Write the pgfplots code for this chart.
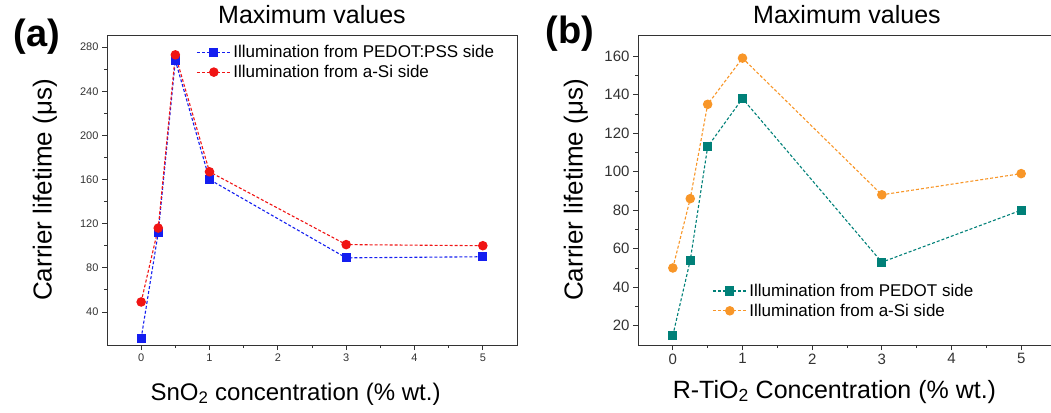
\documentclass[border=0pt]{standalone}
\usepackage{fontspec}
\setmainfont{Liberation Sans}
\usepackage{pgfplots}
\pgfplotsset{compat=1.18}

\definecolor{cblue}{RGB}{20,30,240}
\definecolor{cred}{RGB}{240,20,20}
\definecolor{cteal}{RGB}{0,128,120}
\definecolor{corange}{RGB}{248,150,40}

\pgfplotsset{
  panel/.style={
    scale only axis,
    width=410pt, height=310pt,
    anchor=south west,
    axis line style={line width=0.9pt, black!80},
    tick align=outside, tick pos=left,
    major tick length=5pt, minor tick length=3pt,
    every tick/.style={black!80, line width=0.8pt},
    /pgf/number format/assume math mode=true,
    xmin=-0.5, xmax=5.5, xtick={0,1,2,3,4,5}, minor x tick num=1,
    title style={at={(axis description cs:0.5,1)}, anchor=base, yshift=5pt,
      font=\fontsize{25}{28}\selectfont},
    title={Maximum values},
    legend cell align=left,
    legend style={draw=none, fill=none, row sep=2pt,
      /tikz/every even column/.append style={column sep=2pt}},
    legend image code/.code={%
      \draw[#1, mark repeat=2, mark phase=2] plot coordinates {(0pt,0pt) (17pt,0pt) (34pt,0pt)};},
  },
  ser/.style={line width=1.1pt, dash pattern=on 3pt off 2pt, mark options={solid}},
}

\begin{document}
\begin{tikzpicture}[x=1pt,y=1pt]
\path[use as bounding box] (0pt,0pt) rectangle (1051pt,412pt);

% ---------- (a) ----------
\begin{axis}[panel, at={(107pt,67pt)},
  ymin=10, ymax=291, ytick={40,80,...,280}, minor y tick num=1,
  tick label style={font=\fontsize{11}{12}\selectfont, black!80},
  xlabel={SnO\textsubscript{2} concentration (\% wt.)},
  xlabel style={at={(axis description cs:0.46,0)}, anchor=base, yshift=-55pt,
    font=\fontsize{24}{26}\selectfont},
  ylabel={Carrier lifetime (μs)},
  ylabel style={at={(axis description cs:0,0.5)}, anchor=center, yshift=62pt,
    font=\fontsize{26}{28}\selectfont},
  legend style={at={(axis description cs:0.21,0.98)}, anchor=north west,
    font=\fontsize{17}{19}\selectfont},
]
\addplot[ser, cblue, mark=square*, mark size=4pt] coordinates {
  (0,16) (0.25,112) (0.5,268) (1,160) (3,89) (5,90)};
\addplot[ser, cred, mark=*, mark size=4.2pt] coordinates {
  (0,49) (0.25,116) (0.5,273) (1,167) (3,101) (5,100)};
\legend{Illumination from PEDOT:PSS side, Illumination from a-Si side}
\end{axis}

% ---------- (b) ----------
\begin{axis}[panel, at={(638pt,67pt)}, width=418pt,
  ymin=10, ymax=171, ytick={20,40,...,160}, minor y tick num=1,
  tick label style={font=\fontsize{15}{16}\selectfont, black!80},
  xlabel={R-TiO\textsubscript{2} Concentration (\% wt.)},
  xlabel style={at={(axis description cs:0.47,0)}, anchor=base, yshift=-53pt,
    font=\fontsize{25}{27}\selectfont},
  ylabel={Carrier lifetime (μs)},
  ylabel style={at={(axis description cs:0,0.5)}, anchor=center, yshift=62pt,
    font=\fontsize{26}{28}\selectfont},
  legend style={at={(axis description cs:0.17,0.21)}, anchor=north west,
    font=\fontsize{17}{19}\selectfont},
]
\addplot[ser, cteal, mark=square*, mark size=4pt] coordinates {
  (0,15) (0.25,54) (0.5,113) (1,138) (3,53) (5,80)};
\addplot[ser, corange, mark=*, mark size=4.2pt] coordinates {
  (0,50) (0.25,86) (0.5,135) (1,159) (3,88) (5,99)};
\legend{Illumination from PEDOT side, Illumination from a-Si side}
\end{axis}

\node[font=\bfseries\fontsize{38}{40}\selectfont] at (37pt,375pt) {(a)};
\node[font=\bfseries\fontsize{38}{40}\selectfont] at (570pt,378pt) {(b)};
\end{tikzpicture}
\end{document}
